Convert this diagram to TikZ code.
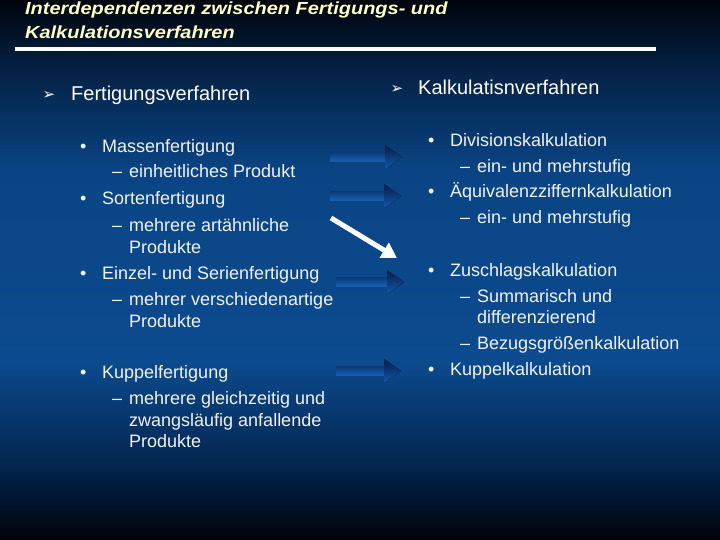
\documentclass[tikz,border=0pt]{standalone}
\usepackage{fontspec}
\usepackage{graphicx}
\setmainfont{Liberation Sans}
\newfontfamily\dejavu{DejaVu Sans}
\usetikzlibrary{calc,arrows.meta}
\definecolor{bgA}{RGB}{0,4,12}
\definecolor{bgB}{RGB}{4,30,62}
\definecolor{bgC}{RGB}{10,68,132}
\definecolor{bgD}{RGB}{12,75,143}
\definecolor{bgE}{RGB}{3,35,75}
\definecolor{bgF}{RGB}{0,2,8}
\definecolor{txtwhite}{RGB}{242,242,242}
\definecolor{titleyellow}{RGB}{255,255,200}
\definecolor{shafttop}{RGB}{10,60,122}
\definecolor{shaftbot}{RGB}{24,96,178}
\definecolor{headtop}{RGB}{5,28,72}
\definecolor{headbot}{RGB}{20,90,170}
\tikzset{
  txt/.style={anchor=base west, inner sep=0pt, text=txtwhite, font=\fontsize{18}{22}\selectfont},
  hdr/.style={anchor=base west, inner sep=0pt, text=white, font=\fontsize{20}{24}\selectfont},
  ttl/.style={anchor=base west, inner sep=0pt, text=titleyellow, font=\fontsize{17.5}{22}\selectfont\bfseries\itshape},
  hbul/.style={anchor=center, inner sep=0pt, text=white, font=\dejavu\fontsize{15}{16}\selectfont},
  whitearrow/.style={white, line width=5pt, -{Triangle[width=17pt,length=15pt]}}
}
\newcommand\fatarrow[2]{%
  \fill[top color=shafttop, bottom color=shaftbot] ($(#1)+(0,-4.5)$) rectangle ($(#2)+(-16,4.5)$);
  \fill[top color=headtop, bottom color=headbot] ($(#2)+(-17,-12)$) -- (#2) -- ($(#2)+(-17,12)$) -- cycle;
}
\newcommand\bul[1]{\makebox[22pt][l]{•}#1}
\newcommand\sub[1]{\makebox[17pt][l]{–}#1}
\begin{document}
\begin{tikzpicture}[x=1pt,y=-1pt]
\useasboundingbox (0,0) rectangle (720,540);
% background
\fill[top color=bgA, bottom color=bgB] (0,0) rectangle (720,60.5);
\fill[top color=bgB, bottom color=bgC] (0,60) rectangle (720,170.5);
\fill[top color=bgC, bottom color=bgD] (0,170) rectangle (720,360.5);
\fill[top color=bgD, bottom color=bgE] (0,360) rectangle (720,470.5);
\fill[top color=bgE, bottom color=bgF] (0,470) rectangle (720,540);
% title
\node[ttl] (t1) at (25,15) {\scalebox{1.14}[1]{Interdependenzen zwischen Fertigungs- und}};
\node[ttl] (t2) at (25,39) {\scalebox{1.14}[1]{Kalkulationsverfahren}};
\coordinate (r1) at (15,49);
\coordinate (r2) at (656,49);
\draw[white, line width=4pt] (r1) -- (r2);
% headers
\node[hbul] (hb1) at (49,95.5) {➢};
\node[hdr] (h1) at (71,100.7) {Fertigungsverfahren};
\node[hbul] (hb2) at (397,89.5) {➢};
\node[hdr] (h2) at (418,94.3) {Kalkulatisnverfahren};
% left list
\node[txt] (l1) at (80,153) {\bul{Massenfertigung}};
\node[txt] (l1a) at (112,178) {\sub{einheitliches Produkt}};
\node[txt] (l2) at (80,205) {\bul{Sortenfertigung}};
\node[txt] (l2a) at (112,231) {\sub{mehrere artähnliche}};
\node[txt] (l2b) at (129,253) {Produkte};
\node[txt] (l3) at (80,279) {\bul{Einzel- und Serienfertigung}};
\node[txt] (l3a) at (112,305) {\sub{mehrer verschiedenartige}};
\node[txt] (l3b) at (129,327) {Produkte};
\node[txt] (l4) at (80,378) {\bul{Kuppelfertigung}};
\node[txt] (l4a) at (112,404) {\sub{mehrere gleichzeitig und}};
\node[txt] (l4b) at (129,426) {zwangsläufig anfallende};
\node[txt] (l4c) at (129,447) {Produkte};
% right list
\node[txt] (r1t) at (428,146.7) {\bul{Divisionskalkulation}};
\node[txt] (r1a) at (460,173) {\sub{ein- und mehrstufig}};
\node[txt] (r2t) at (428,198) {\bul{Äquivalenzziffernkalkulation}};
\node[txt] (r2a) at (460,224) {\sub{ein- und mehrstufig}};
\node[txt] (r3t) at (428,276) {\bul{Zuschlagskalkulation}};
\node[txt] (r3a) at (460,302) {\sub{Summarisch und}};
\node[txt] (r3b) at (477,323) {differenzierend};
\node[txt] (r3c) at (460,349) {\sub{Bezugsgrößenkalkulation}};
\node[txt] (r4t) at (428,375) {\bul{Kuppelkalkulation}};
% arrows
\coordinate (a1s) at (330,157); \coordinate (a1e) at (402,157);
\coordinate (a2s) at (330,196); \coordinate (a2e) at (401,196);
\coordinate (a3s) at (336,282); \coordinate (a3e) at (404,282);
\coordinate (a4s) at (336,371); \coordinate (a4e) at (401,371);
\fatarrow{a1s}{a1e}
\fatarrow{a2s}{a2e}
\fatarrow{a3s}{a3e}
\fatarrow{a4s}{a4e}
\coordinate (w1) at (331,218);
\coordinate (w2) at (397,258);
\draw[whitearrow] (w1) -- (w2);
\end{tikzpicture}
\end{document}
